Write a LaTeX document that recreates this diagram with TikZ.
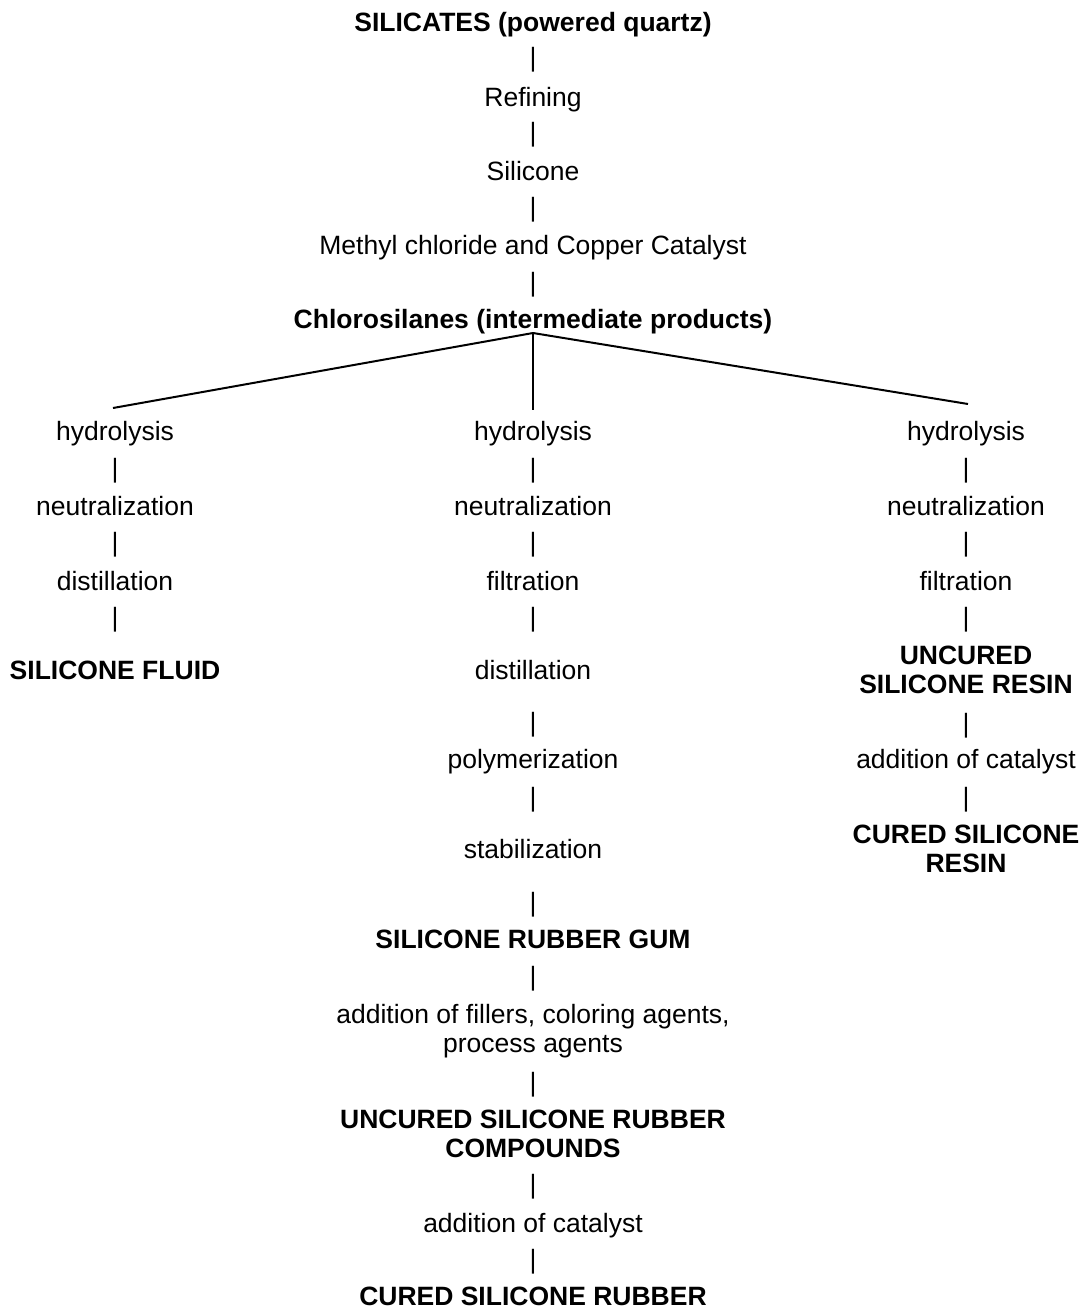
\documentclass[tikz,border=0pt]{standalone}
\usepackage{fontspec}
\setmainfont{Liberation Sans}
\begin{document}
\begin{tikzpicture}[x=1pt,y=-1pt,
  txt/.style={inner sep=0pt, anchor=base, align=center, font=\fontsize{26.5pt}{29pt}\selectfont},
  bld/.style={txt, font=\fontsize{26.5pt}{29pt}\selectfont\bfseries},
  barnode/.style={inner sep=0pt, anchor=center, font=\fontsize{26.5pt}{29pt}\selectfont},
  conn/.style={line width=2pt, black}]
\useasboundingbox (0,0) rectangle (1086,1310);
% top chain
\node[bld] (s0) at (533,31) {SILICATES (powered quartz)};
\node[barnode] (b1) at (533,60) {|};
\node[txt] (s1) at (533,106) {Refining};
\node[barnode] (b2) at (533,135) {|};
\node[txt] (s2) at (533,180) {Silicone};
\node[barnode] (b3) at (533,210) {|};
\node[txt] (s3) at (533,254) {Methyl chloride and Copper Catalyst};
\node[barnode] (b4) at (533,285) {|};
\node[bld] (s4) at (533,328) {Chlorosilanes (intermediate products)};
% branch connectors
\coordinate (apex) at (533,333);
\coordinate (eL) at (113,408);
\coordinate (eC) at (533,410);
\coordinate (eR) at (968,404);
\draw[conn] (apex) -- (eL);
\draw[conn] (apex) -- (eC);
\draw[conn] (apex) -- (eR);
% left column
\node[txt] (l1) at (115,440) {hydrolysis};
\node[barnode] (lb1) at (115,471) {|};
\node[txt] (l2) at (115,515) {neutralization};
\node[barnode] (lb2) at (115,545) {|};
\node[txt] (l3) at (115,590) {distillation};
\node[barnode] (lb3) at (115,620) {|};
\node[bld] (l4) at (115,679) {SILICONE FLUID};
% centre column
\node[txt] (c1) at (533,440) {hydrolysis};
\node[barnode] (cb1) at (533,471) {|};
\node[txt] (c2) at (533,515) {neutralization};
\node[barnode] (cb2) at (533,545) {|};
\node[txt] (c3) at (533,590) {filtration};
\node[barnode] (cb3) at (533,620) {|};
\node[txt] (c4) at (533,679) {distillation};
\node[barnode] (cb4) at (533,725) {|};
\node[txt] (c5) at (533,768) {polymerization};
\node[barnode] (cb5) at (533,800) {|};
\node[txt] (c6) at (533,858) {stabilization};
\node[barnode] (cb6) at (533,905) {|};
\node[bld] (c7) at (533,948) {SILICONE RUBBER GUM};
\node[barnode] (cb7) at (533,979) {|};
\node[txt] (c8) at (533,1052) {addition of fillers, coloring agents,\\process agents};
\node[barnode] (cb8) at (533,1085) {|};
\node[bld] (c9) at (533,1157) {UNCURED SILICONE RUBBER\\COMPOUNDS};
\node[barnode] (cb9) at (533,1187) {|};
\node[txt] (c10) at (533,1232) {addition of catalyst};
\node[barnode] (cb10) at (533,1262) {|};
\node[bld] (c11) at (533,1305) {CURED SILICONE RUBBER};
% right column
\node[txt] (r1) at (966,440) {hydrolysis};
\node[barnode] (rb1) at (966,471) {|};
\node[txt] (r2) at (966,515) {neutralization};
\node[barnode] (rb2) at (966,545) {|};
\node[txt] (r3) at (966,590) {filtration};
\node[barnode] (rb3) at (966,620) {|};
\node[bld] (r4) at (966,693) {UNCURED\\SILICONE RESIN};
\node[barnode] (rb4) at (966,726) {|};
\node[txt] (r5) at (966,768) {addition of catalyst};
\node[barnode] (rb5) at (966,800) {|};
\node[bld] (r6) at (966,872) {CURED SILICONE\\RESIN};
\end{tikzpicture}
\end{document}
